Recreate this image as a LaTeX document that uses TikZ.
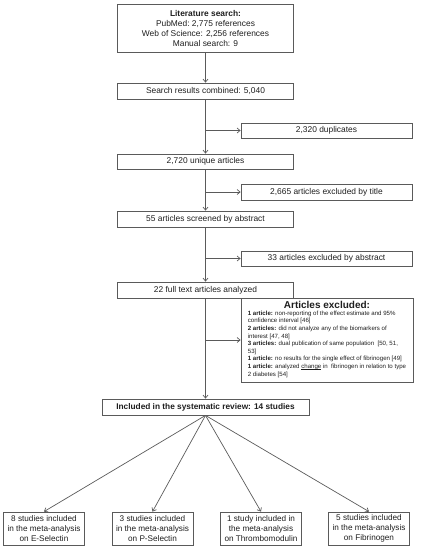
\documentclass[tikz,border=0pt]{standalone}
\usepackage{fontspec}
\setmainfont{Liberation Sans}
\usetikzlibrary{arrows.meta}
\definecolor{lg}{RGB}{90,90,90}
\definecolor{tx}{RGB}{30,30,30}
\newcommand\myul[1]{\setbox0\hbox{#1}\rlap{\rule[-0.8pt]{\wd0}{0.4pt}}\box0}
\begin{document}
\begin{tikzpicture}[x=1pt,y=-1pt,
  box/.style={draw=lg, line width=0.8pt, inner sep=1pt, minimum height=16pt, align=center, text=tx, font=\fontsize{8.4}{10}\selectfont},
  sbox/.style={box, minimum width=81pt, minimum height=33pt, font=\fontsize{8.2}{9.8}\selectfont},
  arr/.style={draw=lg, line width=0.7pt, -{Straight Barb[length=3pt,width=5pt]}},
  ln/.style={draw=lg, line width=0.7pt}]
\useasboundingbox (0,0) rectangle (421,550);
% main column
\node[box, minimum width=176pt, minimum height=48pt] (lit) at (205.5,28)
  {\textbf{Literature search:}\\PubMed:\ 2,775 references\\Web of Science: 2,256 references\\Manual\ search: 9};
\node[box, minimum width=176pt] (comb) at (205.5,91) {Search results combined: 5,040};
\node[box, minimum width=176pt, minimum height=15pt] (uniq) at (205.5,161.5) {2,720 unique articles};
\node[box, minimum width=176pt] (abs55) at (205.5,219) {55 articles screened by abstract};
\node[box, minimum width=176pt] (full) at (205.5,290) {22 full text articles analyzed};
\node[box, minimum width=207pt, font=\bfseries\fontsize{8.3}{10}\selectfont] (incl) at (205.5,407) {Included in the systematic\ review: 14 studies};
% side boxes
\node[box, minimum width=171pt, minimum height=15pt] (dup) at (326.5,130.5) {2,320 duplicates};
\node[box, minimum width=171pt] (title) at (326.5,192) {2,665 articles excluded by title};
\node[box, minimum width=171pt, minimum height=15pt] (abs33) at (326.5,258.5) {33 articles excluded by abstract};
\node[draw=lg, line width=0.8pt, minimum width=172pt, minimum height=84pt, inner sep=0pt, text=tx,
  font=\fontsize{6.1}{7.6}\selectfont] (excl) at (327,340)
  {\begin{tabular}{@{}l@{}}
   \multicolumn{1}{@{}c@{}}{\bfseries\fontsize{10}{10}\selectfont Articles excluded:}\\[-1pt]
   \textbf{1 article:} non-reporting of the effect estimate and 95\%\\
   confidence interval [46]\\
   \textbf{2 articles:} did not analyze any of the biomarkers of\\
   interest [47, 48]\\
   \textbf{3 articles:} dual publication of same population\ \ [50, 51,\\
   53]\\
   \textbf{1 article:} no results for the single effect of fibrinogen [49]\\
   \textbf{1 article:} analyzed \myul{change}\ in\ \ fibrinogen in relation to type\\
   2 diabetes [54]
   \end{tabular}};
% bottom boxes
\node[sbox] (b1) at (44,528.5) {8 studies included\\in the meta-analysis\\on E-Selectin};
\node[sbox] (b2) at (152.5,528.5) {3 studies included\\in the meta-analysis\\on P-Selectin};
\node[sbox] (b3) at (261,528.5) {1 study included in\\the meta-analysis\\on Thrombomodulin};
\node[sbox] (b4) at (369,528.5) {5 studies included\\in the meta-analysis\\on Fibrinogen};
% connectors
\draw[arr] (lit.south) -- (comb.north);
\draw[arr] (comb.south) -- (uniq.north);
\coordinate (j1) at (comb.south |- dup.west);
\draw[arr] (j1) -- (dup.west);
\draw[arr] (uniq.south) -- (abs55.north);
\coordinate (j2) at (uniq.south |- title.west);
\draw[arr] (j2) -- (title.west);
\draw[arr] (abs55.south) -- (full.north);
\coordinate (j3) at (abs55.south |- abs33.west);
\draw[arr] (j3) -- (abs33.west);
\draw[arr] (full.south) -- (incl.north);
\coordinate (j4) at (full.south |- excl.west);
\draw[arr] (j4) -- (excl.west);
\draw[arr] (incl.south) -- (b1.north);
\draw[arr] (incl.south) -- (b2.north);
\draw[arr] (incl.south) -- (b3.north);
\draw[arr] (incl.south) -- (b4.north);
\end{tikzpicture}
\end{document}
